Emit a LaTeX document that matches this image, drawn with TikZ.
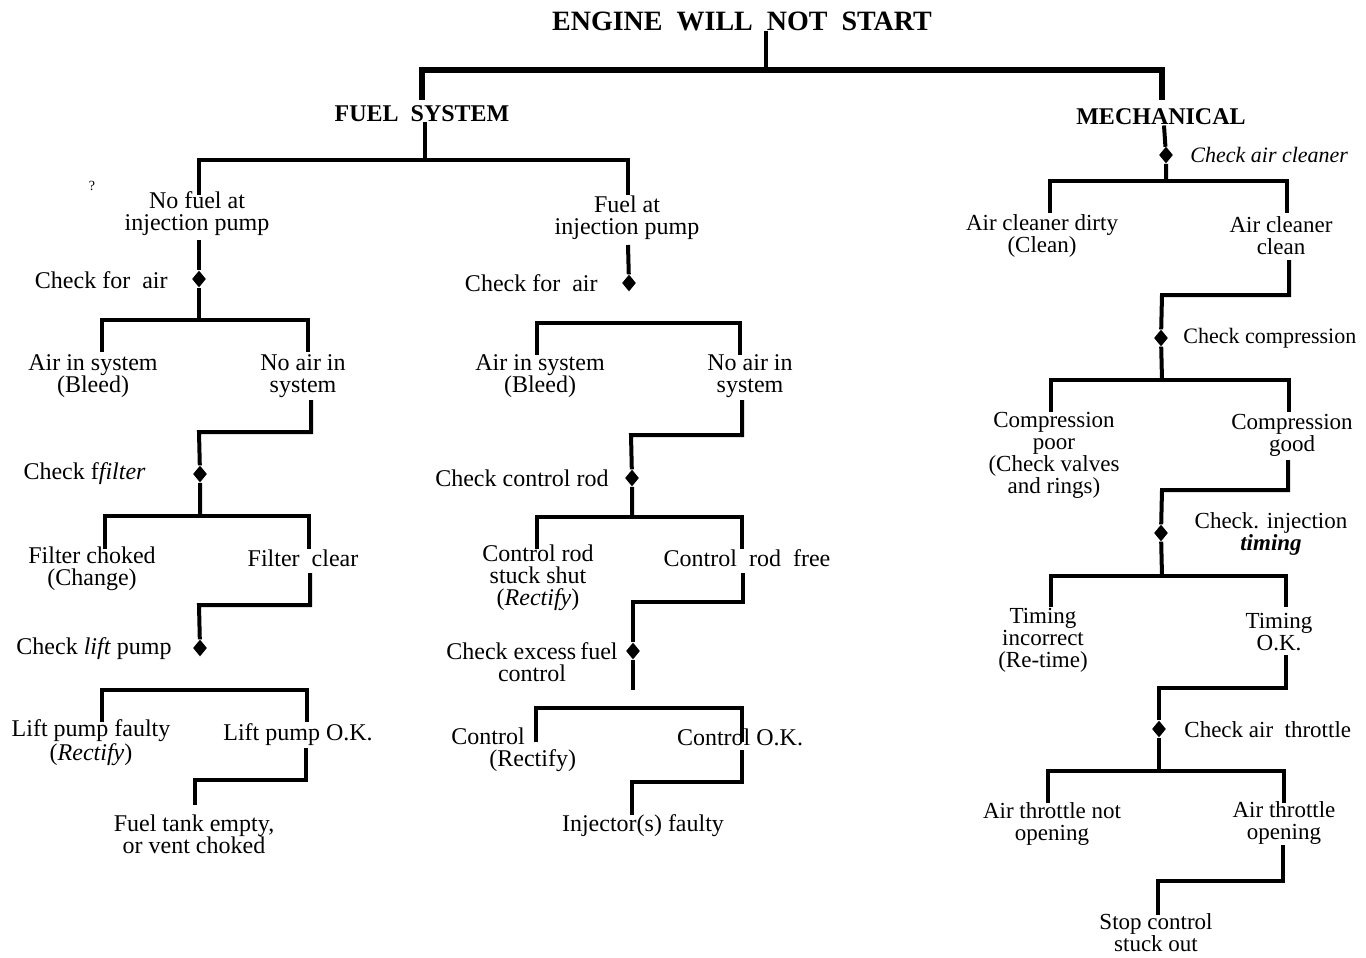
\documentclass[tikz,border=0pt]{standalone}
\usepackage{fontspec}
\setmainfont{Liberation Serif}
\usetikzlibrary{shapes.geometric}
\newcommand\bodyfs{\fontsize{12}{11}\selectfont}
\newcommand\mechfs{\fontsize{11.5}{11}\selectfont}
\newcommand\myfork[4]{\draw[br] (#1,#4) |- (#2,#3) -- (#2,#4);}
\tikzset{
  br/.style={line width=2pt, line join=miter},
  topbr/.style={line width=2.6pt, line join=miter},
  txt/.style={align=center, font=\bodyfs, inner sep=0pt},
  mtxt/.style={align=center, font=\mechfs, inner sep=0pt},
  head/.style={inner sep=0pt, font=\fontsize{12}{13}\selectfont\bfseries},
  dia/.style={diamond, fill=black, draw=none, inner sep=0pt, minimum width=7pt, minimum height=8.5pt},
}
\begin{document}
\begin{tikzpicture}[x=0.5pt,y=-0.5pt]
\useasboundingbox (0,0) rectangle (1366,958);
% headings
\node[inner sep=0pt, font=\fontsize{14}{15}\selectfont\bfseries] (title) at (742,21) {ENGINE\ \ WILL\ \ NOT\ \ START};
\node[head] (fuel) at (422,114) {FUEL\ \ SYSTEM};
\node[head] (mech) at (1161,117) {MECHANICAL};
\node[inner sep=0pt, font=\fontsize{7}{7}\selectfont] (q) at (92,186) {?};
% top structure
\draw[br] (title.south -| 766,0) -- (766,70);
\draw[topbr] (422,100) |- (1162,70) -- (1162,100);
\draw[br] (fuel.south -| 425,0) -- (425,160);
\myfork{199}{628}{160}{195}
% ---------- left column ----------
\node[txt] (nf) at (197,214) {No fuel at\\injection pump};
\node[dia] (d1) at (199,279) {};
\node[txt, anchor=east] (c1) at (168,280) {Check for\ \ air};
\draw[br] (nf.south -| d1) ++(0,4) -- (d1) -- (199,320);
\myfork{102}{308}{320}{352}
\node[txt] (ais1) at (93,376) {Air in system\\(Bleed)};
\node[txt] (nai1) at (303,376) {No air in\\system};
\node[dia] (d2) at (200,474) {};
\node[txt, anchor=east] (c2) at (146,474) {Check f\textit{filter}};
\draw[br] (311,400) |- (199,432) -- (d2) -- (200,516);
\myfork{105}{309}{516}{549}
\node[txt] (fc) at (92,569) {Filter choked\\(Change)};
\node[txt] (fcl) at (303,558) {Filter\ \ clear};
\node[dia] (d3) at (200,648) {};
\node[txt, anchor=east] (c3) at (172,649) {Check \textit{lift} pump};
\draw[br] (310,573) |- (199,605) -- (d3);
\myfork{102}{307}{690}{722}
\node[txt] (lpf) at (91,743) {Lift pump faulty\\(\textit{Rectify})};
\node[txt] (lpo) at (298,735) {Lift pump O.K.};
\draw[br] (306,748) |- (195,780) -- (195,805);
\node[txt] (fte) at (194,834) {Fuel tank empty,\\or vent choked};
% ---------- middle column ----------
\node[txt] (fa) at (627,218) {Fuel at\\injection pump};
\node[dia] (d4) at (629,283) {};
\node[txt, anchor=east] (c4) at (598,283) {Check for\ \ air};
\draw[br] (628,245) -- (d4);
\myfork{537}{740}{323}{355}
\node[txt] (ais2) at (540,376) {Air in system\\(Bleed)};
\node[txt] (nai2) at (750,376) {No air in\\system};
\node[dia] (d5) at (632,478) {};
\node[txt, anchor=east] (c5) at (609,478) {Check control rod};
\draw[br] (742,400) |- (631,435) -- (d5) -- (632,517);
\myfork{537}{742}{517}{549}
\node[txt] (crs) at (538,578) {Control rod\\stuck shut\\(\textit{Rectify})};
\node[txt] (crf) at (747,558) {Control\ \ rod\ \ free};
\node[dia] (d6) at (633,651) {};
\node[txt] (c6) at (532,662) {Check excess\,fuel\\control};
\draw[br] (743,573) |- (633,602) -- (d6) -- (633,690);
\myfork{536}{742}{708}{742}
\node[txt, align=left, anchor=north west] (ctl) at (451,727) {Control\\\hspace*{19pt}(Rectify)};
\node[txt] (cok) at (740,737) {Control O.K.};
\draw[br] (742,750) |- (632,782) -- (632,815);
\node[txt] (inj) at (643,826) {Injector(s) faulty};
% ---------- right column ----------
\node[dia] (d7) at (1166,155) {};
\node[mtxt, anchor=west, font=\fontsize{11}{11}\selectfont] (c7) at (1190,155) {\textit{Check air cleaner}};
\draw[br] (mech.south -| 1164,0) -- (d7) -- (1166,181);
\myfork{1050}{1287}{181}{213}
\node[mtxt] (acd) at (1042,236) {Air cleaner dirty\\(Clean)};
\node[mtxt] (acc) at (1281,236) {Air cleaner\\clean};
\node[dia] (d8) at (1161,338) {};
\node[mtxt, anchor=west, font=\fontsize{11}{11}\selectfont] (c8) at (1183,338) {Check compression};
\draw[br] (1289,260) |- (1162,295) -- (d8) -- (1162,380);
\myfork{1051}{1289}{380}{412}
\node[mtxt] (cp) at (1054,455) {Compression\\poor\\(Check valves\\and rings)};
\node[mtxt] (cg) at (1292,435) {Compression\\good};
\node[dia] (d9) at (1161,533) {};
\node[mtxt] (c9) at (1271,534) {Check. injection\\\textit{\textbf{timing}}};
\draw[br] (1288,460) |- (1162,490) -- (d9) -- (1162,576);
\myfork{1051}{1286}{576}{607}
\node[mtxt] (ti) at (1043,640) {Timing\\incorrect\\(Re-time)};
\node[mtxt] (tok) at (1279,632) {Timing\\O.K.};
\node[dia] (d10) at (1159,729) {};
\node[mtxt, anchor=west] (c10) at (1184,730) {Check air\ \ throttle};
\draw[br] (1286,655) |- (1159,688) -- (d10) -- (1159,771);
\myfork{1048}{1284}{771}{803}
\node[mtxt] (atn) at (1052,824) {Air throttle not\\opening};
\node[mtxt] (ato) at (1284,823) {Air throttle\\opening};
\draw[br] (1283,845) |- (1158,881) -- (1158,915);
\node[mtxt] (sc) at (1156,933) {Stop control\\stuck out};
\end{tikzpicture}
\end{document}
